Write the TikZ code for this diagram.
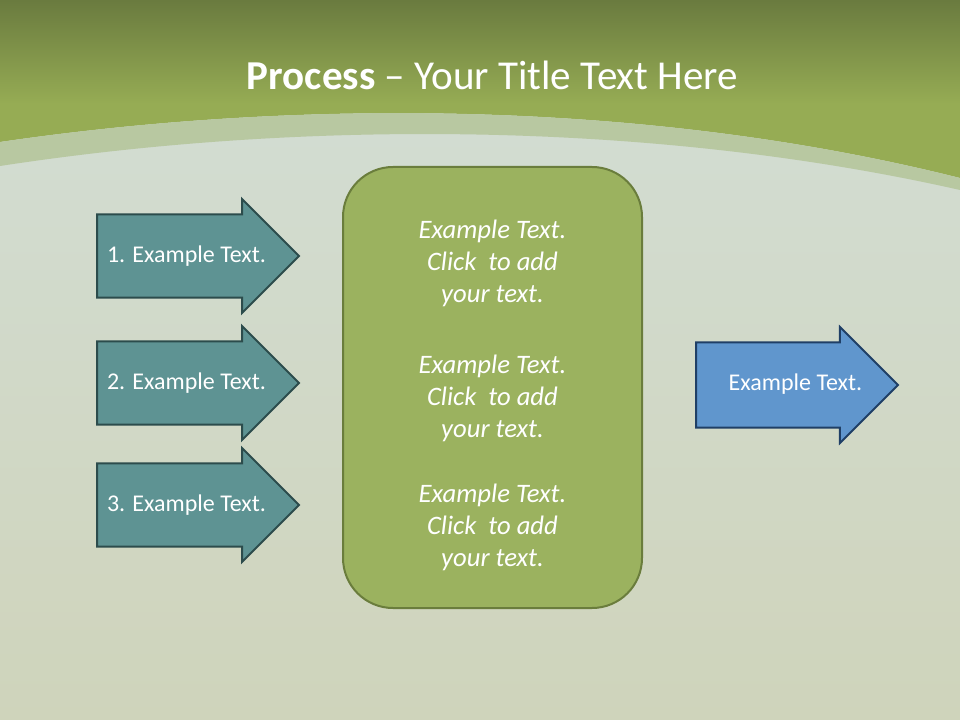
\documentclass[tikz,border=0pt]{standalone}
\usepackage{fontspec}
\setmainfont{Carlito}
\usetikzlibrary{shapes.arrows}
\definecolor{bandtop}{HTML}{6A7B3F}
\definecolor{bandbot}{HTML}{96AC54}
\definecolor{paletop}{HTML}{D3DED6}
\definecolor{palemid}{HTML}{C9D3B7}
\definecolor{palebot}{HTML}{CFD4BB}
\definecolor{archlight}{HTML}{B8C8A1}
\definecolor{tealfill}{HTML}{5E9393}
\definecolor{tealline}{HTML}{2C4C4C}
\definecolor{bluefill}{HTML}{6096CD}
\definecolor{blueline}{HTML}{1F3F66}
\definecolor{panelfill}{HTML}{9BB25F}
\definecolor{panelline}{HTML}{6A7D3C}
\tikzset{
  steparrow/.style={single arrow, draw=tealline, fill=tealfill, line width=1.5pt,
    minimum height=151.5pt, single arrow head extend=11.5pt,
    text height=11pt, text depth=3pt, inner ysep=23.4pt, inner xsep=0pt},
  resultarrow/.style={steparrow, draw=blueline, fill=bluefill, inner ysep=24.3pt},
  arrowtext/.style={text=white, font=\fontsize{18}{21}\selectfont},
  panel/.style={rectangle, rounded corners=37.5pt, draw=panelline, fill=panelfill,
    line width=1.5pt, minimum width=224.25pt, minimum height=330.75pt},
  paneltext/.style={text=white, align=center, font=\fontsize{20}{24}\selectfont\itshape}
}
\begin{document}
\begin{tikzpicture}[x=0.75pt,y=-0.75pt]
  \useasboundingbox (0,0) rectangle (960,720);
  % background
  \shade[top color=paletop, middle color=palemid, bottom color=palebot] (0,0) rectangle (960,720);
  \fill[bandbot]
    (0,0) -- (960,0) -- (960,178) .. controls (650,100) and (300,98) .. (0,142) -- cycle;
  \shade[top color=bandtop, bottom color=bandbot] (0,0) rectangle (960,104);
  \fill[archlight]
    (0,142) .. controls (300,98) and (650,100) .. (960,178) -- (960,190)
    .. controls (650,120) and (300,120) .. (0,166) -- cycle;
  \draw (492.5,75) node[text=white, font=\fontsize{30.8}{36}\selectfont] (title)
    {\textbf{Process} -- Your Title Text Here};
  % inputs
  \draw
    (96,256) node[steparrow, anchor=tail] (step1) {}
    (96,383) node[steparrow, anchor=tail] (step2) {}
    (96,505) node[steparrow, anchor=tail] (step3) {};
  \draw
    (186.5,256) node[arrowtext] (step1text) {1. Example Text.}
    (186.5,383) node[arrowtext] (step2text) {2. Example Text.}
    (186.5,505) node[arrowtext] (step3text) {3. Example Text.};
  % middle
  \draw (492.5,387.5) node[panel] (middle) {};
  \draw (492.5,395.5) node[paneltext] (middletext)
    {Example Text.\\Click\ \ to add\\your text.\\[29.5pt]
     Example Text.\\Click\ \ to add\\your text.\\[25pt]
     Example Text.\\Click\ \ to add\\your text.};
  % output
  \draw (695,385) node[resultarrow, anchor=tail] (result) {};
  \draw (795.5,384) node[arrowtext] (resulttext) {Example Text.};
\end{tikzpicture}
\end{document}
